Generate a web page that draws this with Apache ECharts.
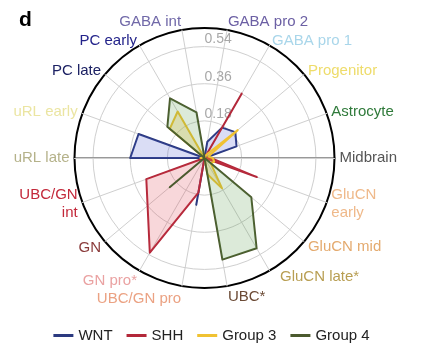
<!DOCTYPE html>
<html>
<head>
<meta charset="utf-8">
<script src="https://cdn.jsdelivr.net/npm/echarts@6/dist/echarts.min.js"></script>
<style>
  html, body { margin: 0; padding: 0; background: #fff; }
  #chart-1 { width: 423px; height: 350px; }
</style>
</head>
<body>
<div id="chart-1"></div>
<script>
// cell types, counter-clockwise from the east axis
var cellTypes = ['Midbrain', 'Astrocyte', 'Progenitor', 'GABA pro 1', 'GABA pro 2', 'GABA int',
    'PC early', 'PC late', 'uRL early', 'uRL late', 'UBC/GN\nint', 'GN', 'GN pro*',
    'UBC/GN pro', 'UBC*', 'GluCN late*', 'GluCN mid', 'GluCN\nearly'];
var cellColors = ['#555555', '#2f7a3a', '#eedc6a', '#a9d6ea', '#6c60a4', '#7068a8',
    '#23238a', '#1c2163', '#ebe5a2', '#b5b28a', '#c3283a', '#8a3a3a', '#eaa2a2',
    '#eba283', '#6b4a35', '#b89e52', '#e4aa6e', '#efb98a'];

var groups = ['WNT', 'SHH', 'Group 3', 'Group 4'];
var groupColors = ['#2c3a80', '#b3283a', '#f0c232', '#4b5a2e'];
var groupFills = ['#5060d0', '#e04050', '#f0c030', '#5a9a4a'];

var wnt    = [0, 0.165, 0.195, 0.17, 0.08, 0, 0, 0, 0.34, 0.36, 0, 0, 0, 0.23, 0, 0, 0, 0];
var shh    = [0.03, 0, 0, 0.36, 0, 0, 0, 0, 0, 0, 0.30, 0.36, 0.53, 0.17, 0, 0, 0, 0.27];
var group3 = [0.04, 0.02, 0.21, 0.02, 0, 0, 0.26, 0.22, 0, 0.02, 0, 0, 0, 0, 0.08, 0.17, 0.04, 0.05];
var group4 = [0, 0, 0, 0, 0, 0.225, 0.334, 0.235, 0, 0, 0, 0.22, 0, 0, 0.50, 0.505, 0.296, 0];

var rMax = 0.63;
var rStep = 0.18;

// small label nudges [dx, dy] in px, same order as cellTypes
var nameNudge = [[0, 0], [0, 0], [0, 0], [0, 0], [0, -3], [0, -3],
    [0, 0], [0, 0], [0, 0], [0, 0], [0, 0], [0, 3], [0, 6],
    [0, 8], [0, 6], [8, 2], [0, 2], [0, 0]];

var dom = document.getElementById('chart-1');
var myChart = echarts.init(dom);
var font = 'Liberation Sans';
var center = [204.5, 158];
var radius = 130;

var values = [wnt, shh, group3, group4];
var radarData = groups.map(function (g, i) {
    return {
        name: g,
        value: values[i],
        itemStyle: { color: groupColors[i] },
        lineStyle: { color: groupColors[i], width: 2 },
        areaStyle: { color: groupFills[i], opacity: i == 2 ? 0.25 : 0.21 }
    };
});

var rich = {};
cellTypes.forEach(function (c, i) {
    var d = cellNudgePad(nameNudge[i]);
    rich['n' + i] = { color: cellColors[i], fontSize: 15, fontFamily: font, padding: d };
});
function cellNudgePad(n) {
    var dx = n[0], dy = n[1];
    return [dy > 0 ? 2 * dy : 0, 0, dy < 0 ? -2 * dy : 0, dx > 0 ? dx : 0];
}

var option = {
    backgroundColor: '#fff',
    textStyle: { fontFamily: font },
    title: {
        text: 'd',
        left: 19,
        top: 10,
        padding: 0,
        textStyle: { fontSize: 21, fontWeight: 'bold', color: '#000', fontFamily: font }
    },
    legend: {
        data: groups,
        left: 'center',
        top: 323,
        icon: 'rect',
        itemWidth: 20,
        itemHeight: 3,
        itemGap: 14,
        textStyle: { fontSize: 15, color: '#222', fontFamily: font }
    },
    polar: [
        { center: center, radius: radius },
        { center: center, radius: radius },
        { center: center, radius: radius }
    ],
    angleAxis: [
        {
            polarIndex: 0, type: 'value', min: 0, max: 360, startAngle: 0,
            axisLine: { lineStyle: { color: '#000', width: 2 } },
            axisTick: { show: false }, axisLabel: { show: false }, splitLine: { show: false }
        },
        { polarIndex: 1, type: 'value', min: 0, max: 360, startAngle: 180, show: false },
        { polarIndex: 2, type: 'value', min: 0, max: 360, startAngle: 90, show: false }
    ],
    radiusAxis: [
        {
            polarIndex: 0, min: 0, max: rMax, interval: rStep,
            axisLine: { lineStyle: { color: '#999', width: 2 } },
            axisTick: { show: false }, axisLabel: { show: false },
            splitLine: { lineStyle: { color: '#cfcfcf', width: 1 } }
        },
        {
            polarIndex: 1, min: 0, max: rMax, interval: rStep,
            axisLine: { lineStyle: { color: '#999', width: 2 } },
            axisTick: { show: false }, axisLabel: { show: false }, splitLine: { show: false }
        },
        {
            polarIndex: 2, min: 0, max: rMax, interval: rStep,
            axisLine: { show: false }, axisTick: { show: false }, splitLine: { show: false },
            axisLabel: {
                show: true, color: '#a8a8a8', fontSize: 14, fontFamily: font,
                margin: 0, align: 'left', verticalAlign: 'bottom',
                formatter: function (v) {
                    if (v <= 0 || v > 0.6) return '';
                    return v.toFixed(2);
                }
            }
        }
    ],
    radar: {
        center: center,
        radius: radius,
        startAngle: 0,
        shape: 'circle',
        nameGap: 5,
        indicator: cellTypes.map(function (c, i) {
            return { name: c, max: rMax, min: 0, color: cellColors[i] };
        }),
        axisName: {
            fontSize: 15, fontFamily: font, lineHeight: 18,
            formatter: function (name) {
                var i = cellTypes.indexOf(name);
                return name.split('\n').map(function (l) {
                    return '{n' + i + '|' + l + '}';
                }).join('\n');
            },
            rich: rich
        },
        axisLine: { lineStyle: { color: '#cfcfcf', width: 1 } },
        splitLine: { show: false },
        splitArea: { show: false },
        axisTick: { show: false },
        axisLabel: { show: false }
    },
    series: [{
        type: 'radar',
        symbol: 'none',
        z: 5,
        data: radarData
    }]
};
myChart.setOption(option);
</script>
</body>
</html>
